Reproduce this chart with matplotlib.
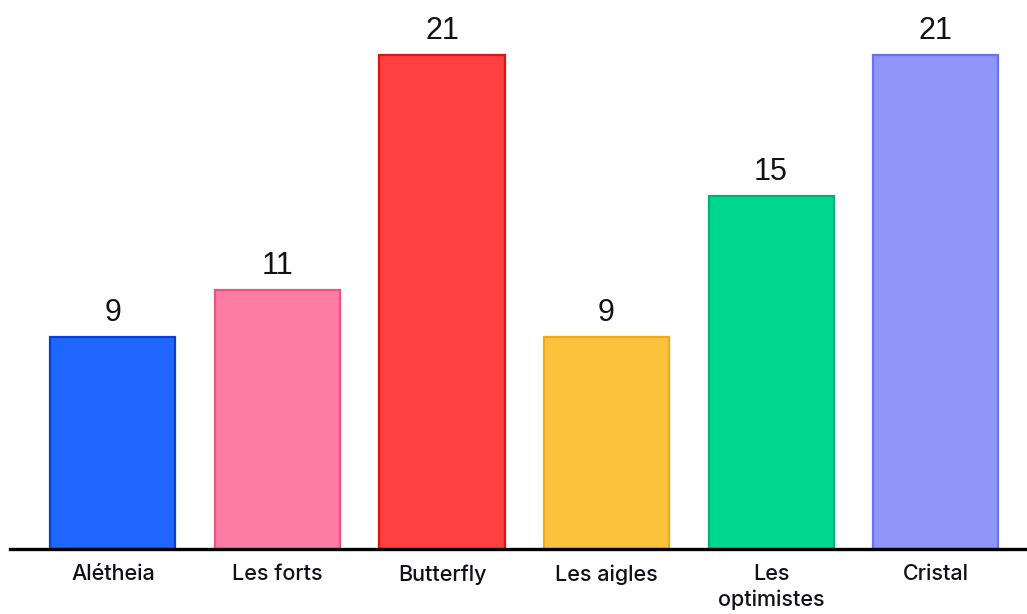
import matplotlib.pyplot as plt

teams = ['Alétheia', 'Les forts', 'Butterfly', 'Les aigles', 'Les\noptimistes', 'Cristal']
votes = [9, 11, 21, 9, 15, 21]
fills = ['#1e66fd', '#fd7ca6', '#ff4040', '#fdc23c', '#00d78e', '#9095f9']
edges = ['#0a3fcf', '#ef5282', '#dc1414', '#f2a81a', '#00b271', '#6a70f2']

fig = plt.figure(figsize=(10.27, 6.14), dpi=100)
ax = fig.add_axes([10 / 1027, 65 / 614, 1017 / 1027, 549 / 614])

x = list(range(len(teams)))
ax.bar(x, votes, width=0.76, color=fills, edgecolor=edges, linewidth=1.6)

for xi, v in zip(x, votes):
    ax.annotate(str(v), (xi, v), xytext=(0, 7), textcoords='offset points',
                ha='center', va='bottom', fontsize=22, family='Liberation Sans',
                color='#111111')

ax.set_xlim(-0.626, 5.556)
ax.set_ylim(0, 23.36)
ax.set_xticks(x)
ax.set_xticklabels(teams, fontsize=15.5, family='Inter', color='#10101c',
                   weight='medium', linespacing=1.3, va='top')
ax.tick_params(axis='x', length=0, pad=11)
ax.set_yticks([])
for s in ['top', 'right', 'left']:
    ax.spines[s].set_visible(False)
ax.spines['bottom'].set_linewidth(2.4)
ax.spines['bottom'].set_color('black')

fig.savefig('out.png', dpi=100)
